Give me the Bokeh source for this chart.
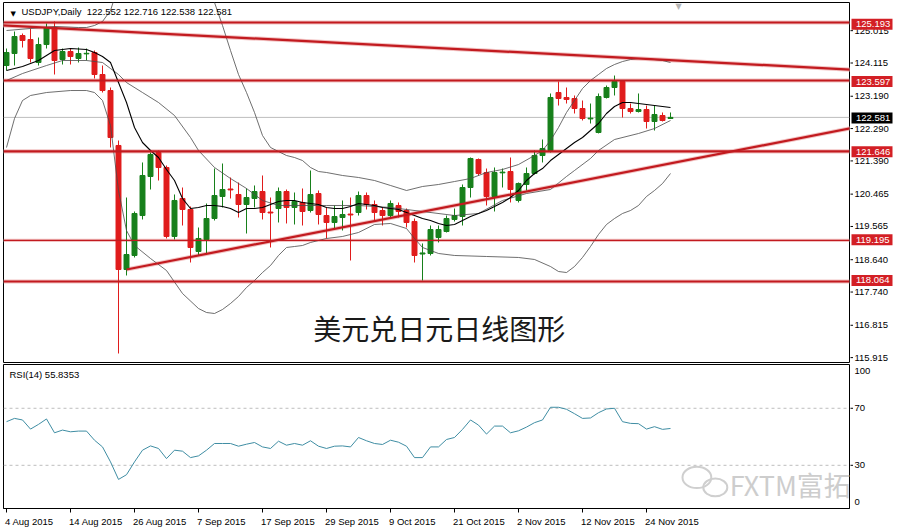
import numpy as np
from bokeh.plotting import figure
from bokeh.layouts import column, row
from bokeh.models import Range1d, FixedTicker, Label, Span, ColumnDataSource
from bokeh.core.properties import value
from bokeh.embed import file_html
from bokeh.resources import INLINE

# ------------------------------------------------------------------ data
SYMBOL = "USDJPY,Daily"
TITLE_CN = "美元兑日元日线图形"
WATERMARK = "FXTM富拓"
RSI_NAME = "RSI(14)"
RSI_LAST = 55.8353

DATE_LABELS = ["4 Aug 2015", "14 Aug 2015", "26 Aug 2015", "7 Sep 2015", "17 Sep 2015",
               "29 Sep 2015", "9 Oct 2015", "21 Oct 2015", "2 Nov 2015", "12 Nov 2015",
               "24 Nov 2015"]
DATE_TICK_BARS = [0, 8, 16, 24, 32, 40, 48, 56, 64, 72, 80]

OPEN = [124.009, 124.340, 124.835, 124.725, 124.092, 124.587, 125.056, 124.175, 124.395, 124.202,
        124.330, 124.367, 123.762, 123.321, 121.808, 118.394, 118.780, 119.880, 120.954, 121.615,
        121.202, 119.303, 120.349, 120.046, 118.890, 119.220, 119.798, 120.404, 120.610, 120.459,
        120.183, 120.349, 120.541, 119.975, 120.073, 120.541, 120.101, 120.239, 120.018, 120.486,
        119.880, 119.688, 119.825, 119.920, 119.963, 120.431, 120.183, 120.018, 119.880, 120.156,
        120.018, 119.716, 118.820, 118.835, 119.275, 119.440, 119.771, 119.853, 120.651, 121.422,
        121.064, 120.404, 121.055, 121.092, 120.294, 120.734, 121.037, 121.532, 121.670, 123.266,
        123.129, 123.101, 122.826, 122.540, 122.165, 123.129, 123.404, 123.569, 122.826, 122.743,
        122.798, 122.468, 122.633, 122.552]
HIGH = [124.477, 124.945, 124.890, 125.028, 124.780, 125.166, 125.221, 124.477, 124.477, 124.505,
        124.477, 124.422, 124.009, 123.404, 121.945, 120.376, 119.991, 121.340, 121.615, 121.670,
        121.257, 120.459, 120.651, 120.128, 119.550, 120.211, 121.174, 121.312, 120.927, 120.789,
        120.624, 120.707, 120.982, 120.376, 120.651, 120.596, 120.514, 120.624, 121.119, 120.569,
        120.101, 120.156, 120.294, 120.376, 120.541, 120.514, 120.294, 120.101, 120.294, 120.239,
        120.073, 119.798, 119.110, 119.605, 119.605, 119.880, 120.073, 120.734, 121.477, 121.450,
        121.174, 121.202, 121.174, 121.477, 120.789, 121.202, 121.670, 121.973, 123.239, 123.569,
        123.404, 123.184, 123.046, 122.963, 123.239, 123.459, 123.734, 123.597, 122.963, 123.239,
        122.908, 122.908, 122.716, 122.716]
LOW = [123.872, 124.009, 124.505, 124.092, 124.009, 124.477, 123.762, 124.037, 124.037, 124.092,
       124.147, 123.652, 123.266, 121.753, 116.082, 118.229, 118.725, 119.771, 120.596, 120.844,
       119.248, 119.220, 119.605, 118.587, 118.780, 118.835, 119.743, 120.101, 120.349, 119.825,
       119.385, 120.101, 119.771, 119.000, 119.688, 119.661, 119.633, 119.605, 119.963, 119.633,
       119.248, 119.523, 119.468, 118.642, 119.880, 120.046, 119.743, 119.605, 119.825, 119.825,
       119.550, 118.587, 118.091, 118.780, 119.138, 119.413, 119.716, 119.605, 120.376, 120.982,
       120.156, 119.991, 120.651, 120.239, 120.239, 120.569, 121.009, 121.340, 121.615, 122.908,
       122.963, 122.688, 122.496, 122.413, 122.140, 123.101, 123.184, 122.578, 122.688, 122.716,
       122.275, 122.220, 122.468, 122.538]
CLOSE = [124.367, 124.808, 124.698, 124.202, 124.587, 125.056, 124.147, 124.395, 124.257, 124.340,
         124.345, 123.762, 123.321, 122.028, 118.394, 118.807, 119.936, 120.982, 121.560, 121.202,
         119.303, 120.294, 120.046, 119.000, 119.248, 119.798, 120.431, 120.596, 120.585, 120.183,
         120.376, 120.541, 119.963, 119.950, 120.541, 120.101, 120.266, 119.991, 120.459, 119.908,
         119.688, 119.853, 119.908, 119.895, 120.431, 120.183, 119.963, 119.880, 120.211, 119.991,
         119.688, 118.780, 118.850, 119.495, 119.495, 119.798, 119.880, 120.651, 121.450, 121.037,
         120.404, 121.064, 121.075, 120.596, 120.762, 121.037, 121.532, 121.725, 123.129, 123.101,
         123.074, 122.826, 122.550, 122.560, 123.156, 123.404, 123.569, 122.826, 122.743, 122.798,
         122.468, 122.661, 122.496, 122.581]

# moving average (black)
MA_BARS = [0, 2, 4, 6, 8] + list(range(10, 84))
MA_VALUES = [123.872, 123.982, 124.147, 124.422, 124.477,
             124.450, 124.367, 124.257, 124.092, 123.541, 122.991, 122.303, 121.890, 121.670, 121.477,
             121.146, 120.844, 120.349, 120.073, 120.101, 120.156, 120.156, 120.128, 120.073, 119.963,
             120.073, 120.073, 120.101, 120.183, 120.266, 120.294, 120.294, 120.239, 120.211, 120.183,
             120.101, 120.073, 120.073, 120.128, 120.211, 120.183, 120.156, 120.101, 120.073, 120.046,
             119.963, 119.880, 119.798, 119.743, 119.661, 119.605, 119.633, 119.743, 119.853, 119.936,
             120.018, 120.128, 120.239, 120.376, 120.569, 120.844, 121.037, 121.174, 121.394, 121.560,
             121.725, 121.890, 122.028, 122.220, 122.413, 122.688, 122.881, 122.991, 122.991, 122.963,
             122.936, 122.908, 122.881, 122.853]

# Bollinger bands
BB_MID_BARS = [0, 2, 5, 7, 10, 12, 13, 14, 15, 17, 19, 21, 23, 24, 26, 28, 30, 32, 34, 36, 40, 44,
               48, 52, 56, 59, 62, 65, 68, 70, 71, 73, 74, 76, 79, 81, 83]
BB_MID_VALUES = [123.596, 123.789, 124.009, 124.147, 124.147, 124.092, 123.927, 123.762, 123.541,
                 123.266, 122.991, 122.633, 122.028, 121.670, 121.202, 120.899, 120.624, 120.294,
                 120.156, 120.156, 120.156, 120.156, 120.101, 119.991, 119.880, 119.936, 120.294,
                 120.486, 120.596, 120.954, 121.119, 121.450, 121.670, 121.972, 122.138, 122.275,
                 122.496]
BB_UP_BARS = [0, 3, 6, 9, 10, 11, 12, 13, 14, 16, 20, 24, 25, 26, 27, 28, 29, 30, 31, 32, 33, 34,
              35, 36, 37, 38, 39, 40, 42, 44, 46, 48, 50, 52, 54, 56, 58, 60, 62, 64, 66, 67, 68,
              69, 70, 71, 72, 73, 74, 75, 76, 77, 78, 79, 80, 81, 82, 83]
BB_UP_VALUES = [124.973, 125.028, 125.083, 125.056, 125.056, 125.111, 125.221, 125.523, 126.212,
                127.450, 127.725, 126.900, 126.212, 125.744, 125.111, 124.422, 123.762, 123.266,
                122.716, 122.082, 121.753, 121.642, 121.532, 121.477, 121.394, 121.202, 121.092,
                121.064, 120.982, 120.927, 120.844, 120.707, 120.569, 120.679, 120.734, 120.816,
                120.899, 121.064, 121.147, 121.284, 121.532, 121.670, 121.945, 122.303, 122.716,
                123.046, 123.376, 123.596, 123.762, 123.927, 124.037, 124.119, 124.174, 124.202,
                124.202, 124.174, 124.147, 124.092]
BB_LO_BARS = [0, 1, 2, 3, 5, 8, 10, 11, 12, 13, 14, 15, 16, 18, 20, 22, 24, 25, 26, 27, 28, 29, 30,
              31, 32, 33, 34, 35, 36, 37, 38, 40, 42, 44, 46, 48, 50, 51, 52, 54, 56, 60, 64, 66,
              68, 69, 70, 71, 72, 73, 74, 75, 76, 77, 78, 79, 80, 81, 82, 83]
BB_LO_VALUES = [121.752, 122.550, 123.046, 123.184, 123.266, 123.321, 123.321, 123.266, 123.046,
                122.358, 120.569, 119.468, 119.055, 118.697, 118.366, 117.733, 117.320, 117.210,
                117.183, 117.293, 117.458, 117.651, 117.899, 118.091, 118.311, 118.504, 118.780,
                119.000, 119.027, 119.055, 119.138, 119.248, 119.303, 119.413, 119.633, 119.661,
                119.523, 119.248, 119.000, 118.835, 118.780, 118.752, 118.725, 118.670, 118.476,
                118.339, 118.311, 118.476, 118.725, 119.027, 119.358, 119.633, 119.798, 119.936,
                120.018, 120.156, 120.404, 120.569, 120.761, 121.037]

# horizontal support / resistance levels and trend lines
LEVELS = [125.193, 123.597, 121.646, 119.195, 118.064]
RES_LINE_BARS = [-1, 106]
RES_LINE_PRICES = [125.121, 123.892]
SUP_LINE_BARS = [15, 106]
SUP_LINE_PRICES = [118.394, 122.303]

PRICE_TICKS = [125.015, 124.115, 123.190, 122.290, 121.390, 120.465, 119.565, 118.640, 117.740,
               116.815, 115.915]

RSI = [60.6, 62.9, 61.8, 55.4, 58.7, 62.5, 52.8, 54.7, 53.5, 54.0,
       54.0, 47.6, 42.9, 32.4, 20.1, 23.4, 32.4, 40.6, 43.6, 41.8,
       34.7, 40.6, 39.9, 35.4, 36.6, 40.6, 45.3, 45.3, 45.3, 43.4,
       44.8, 46.0, 42.9, 41.8, 46.9, 44.1, 45.3, 44.1, 47.2, 43.4,
       41.8, 43.4, 43.6, 42.9, 49.5, 47.2, 45.3, 44.6, 47.6, 46.2,
       43.4, 35.4, 35.4, 42.9, 42.9, 48.1, 49.5, 55.2, 61.8, 58.2,
       51.9, 57.5, 57.5, 52.8, 54.2, 56.8, 59.9, 61.8, 70.7, 70.7,
       69.3, 66.2, 62.9, 63.2, 66.9, 69.5, 70.0, 60.6, 59.4, 59.2,
       55.4, 57.1, 55.2, RSI_LAST]
RSI_LEVELS = [70, 30]
RSI_SCALE_LABELS = [100, 70, 30, 0]

# ------------------------------------------------------------------ style / layout
X_LO, X_HI = -0.375, 105.375          # visible bar range of the chart frame
P_LO, P_HI = 115.834, 125.744          # visible price range
R_LO, R_HI = -0.3, 100.7               # visible RSI range
MAIN_W, SIDE_W = 850, 43
MAIN_H, RSI_H, DATE_H = 364, 150, 14
PX_PER_PRICE = 360 / (P_HI - P_LO)
GREEN = "#17801b"
RED = "#e01c1c"
LEVEL_RED = "#c21a1f"
HALO = "#f2c3c3"
BOX_RED = "#d31f25"
BAND = "#4a4a4a"
RSI_COL = "#3f8da3"
FONT = "Liberation Sans"
FS = "9.5px"
LEVEL_WIDTHS = [2.2, 2.2, 2.2, 1.2, 2.2]
NB = "\u00a0"


def base_fig(**kw):
    f = figure(output_backend="svg", toolbar_location=None, background_fill_color="white",
               border_fill_color="white", **kw)
    f.grid.visible = False
    return f


# ------------------------------------------------------------------ price panel
p1 = base_fig(width=MAIN_W, height=MAIN_H, x_range=Range1d(X_LO, X_HI), y_range=Range1d(P_LO, P_HI),
              x_axis_location=None, y_axis_location=None, min_border_left=3, min_border_right=1,
              min_border_top=2, min_border_bottom=2, outline_line_color="black",
              outline_line_width=1)

idx = np.arange(len(CLOSE))
o = np.array(OPEN); h = np.array(HIGH); l = np.array(LOW); c = np.array(CLOSE)
up = c >= o

# current price line
p1.add_layout(Span(location=CLOSE[-1], dimension="width", line_color="#bdbdbd", line_width=1,
                   level="underlay"))

# levels and trendlines (soft halo + core)
for lvl, lw in zip(LEVELS, LEVEL_WIDTHS):
    p1.add_layout(Span(location=lvl, dimension="width", line_color=HALO, line_width=lw + 2,
                       level="underlay"))
for bars, prices in ((RES_LINE_BARS, RES_LINE_PRICES), (SUP_LINE_BARS, SUP_LINE_PRICES)):
    p1.line(bars, prices, line_color=HALO, line_width=4.2)

for mask, col in ((up, GREEN), (~up, RED)):
    src = ColumnDataSource(dict(x=idx[mask], hi=h[mask], lo=l[mask],
                                top=np.maximum(o, c)[mask], bot=np.minimum(o, c)[mask]))
    p1.segment(x0="x", y0="lo", x1="x", y1="hi", line_color=col, line_width=1, source=src)
    p1.vbar(x="x", width=0.62, top="top", bottom="bot", fill_color=col, line_color=col,
            line_width=1, source=src)

p1.line(BB_UP_BARS, BB_UP_VALUES, line_color=BAND, line_width=0.8)
p1.line(BB_MID_BARS, BB_MID_VALUES, line_color=BAND, line_width=0.8)
p1.line(BB_LO_BARS, BB_LO_VALUES, line_color=BAND, line_width=0.8)
p1.line(MA_BARS, MA_VALUES, line_color="black", line_width=1.1)

for lvl, lw in zip(LEVELS, LEVEL_WIDTHS):
    p1.add_layout(Span(location=lvl, dimension="width", line_color=LEVEL_RED, line_width=lw))
p1.line(RES_LINE_BARS, RES_LINE_PRICES, line_color=LEVEL_RED, line_width=2.2)
p1.line(SUP_LINE_BARS, SUP_LINE_PRICES, line_color=LEVEL_RED, line_width=2.2)

p1.add_layout(Label(x=X_LO, y=P_HI, x_offset=7, y_offset=-11, text="▼", text_color="black",
                    text_font="DejaVu Sans", text_font_size="7px", text_baseline="middle"))
hdr = f"{SYMBOL}{NB}{NB}{OPEN[-1]:.3f} {HIGH[-1]:.3f} {LOW[-1]:.3f} {CLOSE[-1]:.3f}"
p1.add_layout(Label(x=X_LO, y=P_HI, x_offset=18, y_offset=-9, text=hdr, text_color="black",
                    text_font=FONT, text_font_size=FS, text_baseline="middle"))
p1.add_layout(Label(x=len(CLOSE), y=P_HI, y_offset=1, text="▼", text_color="#b5b5b5",
                    text_font="DejaVu Sans", text_font_size="8px", text_baseline="top",
                    text_align="center"))
p1.add_layout(Label(x=54.1, y=116.797, text=TITLE_CN, text_color="#1a1a1a",
                    text_font="Noto Sans CJK SC", text_font_size="28px", text_align="center",
                    text_baseline="middle"))

# ------------------------------------------------------------------ price scale (right strip)
pad = 2 / PX_PER_PRICE
p1r = base_fig(width=SIDE_W, height=MAIN_H, x_range=Range1d(1, 1 + SIDE_W),
               y_range=Range1d(P_LO - pad, P_HI + pad), x_axis_location=None,
               y_axis_location=None, min_border=0, outline_line_color=None)
p1r.segment(x0=0, x1=3.5, y0=PRICE_TICKS, y1=PRICE_TICKS, line_color="black", line_width=1)
p1r.text(x=5, y=PRICE_TICKS, text=[f"{t:.3f}" for t in PRICE_TICKS], text_color="black",
         text_font=value(FONT), text_font_size=FS, text_baseline="middle", text_align="left")
box_y = LEVELS + [CLOSE[-1]]
box_src = ColumnDataSource(dict(y=box_y, t=[f"{v:.3f}" for v in box_y],
                                bg=[BOX_RED] * len(LEVELS) + ["black"]))
p1r.rect(x=22.5, y="y", width=41, height=11, height_units="screen", fill_color="bg",
         line_color=None, source=box_src)
p1r.text(x=6.5, y="y", text="t", text_color="white", text_font=value(FONT), text_font_size=FS,
         text_baseline="middle", text_align="left", source=box_src)

# ------------------------------------------------------------------ RSI panel
p2 = base_fig(width=MAIN_W, height=RSI_H, x_range=p1.x_range, y_range=Range1d(R_LO, R_HI),
              y_axis_location=None, min_border_left=3, min_border_right=1, min_border_top=0,
              min_border_bottom=RSI_H - 144, outline_line_color="black", outline_line_width=1)
xa = p2.xaxis[0]
xa.ticker = FixedTicker(ticks=DATE_TICK_BARS)
xa.major_label_overrides = {t: "" for t in DATE_TICK_BARS}
xa.major_label_text_font_size = "1px"
xa.major_label_standoff = 0
xa.major_tick_out = 4
xa.major_tick_in = 0
xa.axis_line_color = "black"

for lv in RSI_LEVELS:
    p2.add_layout(Span(location=lv, dimension="width", line_color="#bdbdbd", line_width=1,
                       line_dash="3 3", level="underlay"))
p2.line(idx, RSI, line_color=RSI_COL, line_width=1)
p2.add_layout(Label(x=X_LO, y=R_HI, x_offset=6, y_offset=-10,
                    text=f"{RSI_NAME} {RSI_LAST:.4f}", text_color="black", text_font=FONT,
                    text_font_size=FS, text_baseline="middle"))

# watermark
WM_X, WM_Y = 90.4, 16.7
p2.ellipse(x=[WM_X - 4.1, WM_X - 1.8], y=[21.5, 14.5], width=[3.6, 3.0], height=[15.0, 12.5],
           fill_color=None, line_color="#cfcfcf", line_width=2)
p2.text(x=[WM_X], y=[WM_Y], text=[WATERMARK], text_color="#cdcdcd",
        text_font=value("Noto Sans CJK SC"), text_font_size="27px", text_baseline="middle",
        text_align="left")

# ------------------------------------------------------------------ RSI scale (right strip)
p2r = base_fig(width=SIDE_W, height=RSI_H, x_range=Range1d(1, 1 + SIDE_W), y_range=p2.y_range,
               x_axis_location=None, y_axis_location=None, min_border=0,
               min_border_bottom=RSI_H - 144, outline_line_color=None)
p2r.segment(x0=0, x1=3.5, y0=RSI_LEVELS, y1=RSI_LEVELS, line_color="black", line_width=1)
p2r.text(x=5, y=RSI_SCALE_LABELS, text=[str(v) for v in RSI_SCALE_LABELS],
         y_offset=[6, 0, 0, -6], text_color="black", text_font=value(FONT), text_font_size=FS,
         text_baseline="middle", text_align="left")

# ------------------------------------------------------------------ date strip
p3 = base_fig(width=MAIN_W + SIDE_W, height=DATE_H, x_range=p1.x_range, y_range=Range1d(0, DATE_H),
              x_axis_location=None, y_axis_location=None, min_border_left=3,
              min_border_right=SIDE_W + 1, min_border_top=0, min_border_bottom=0,
              outline_line_color=None)
p3.text(x=DATE_TICK_BARS, y=[DATE_H] * len(DATE_TICK_BARS), text=DATE_LABELS, x_offset=-1.5,
        y_offset=1, text_color="black", text_font=value(FONT), text_font_size=FS,
        text_baseline="top", text_align="left")

layout = column(row(p1, p1r), row(p2, p2r), p3)
open("out.html", "w").write(file_html(layout, INLINE))
